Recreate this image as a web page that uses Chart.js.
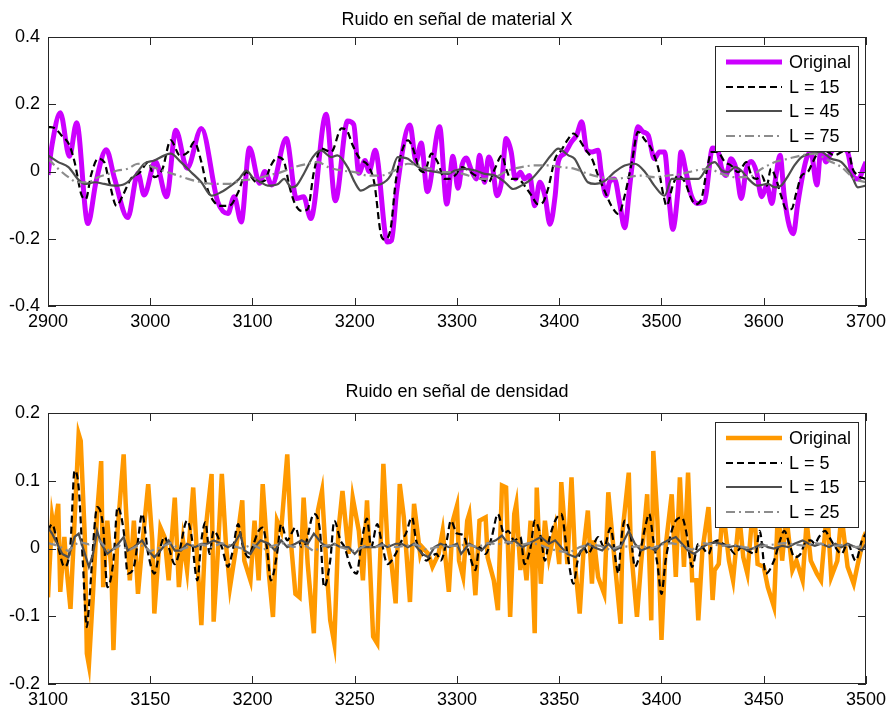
<!DOCTYPE html>
<html lang="es">
<head>
<meta charset="UTF-8">
<title>Ruido en señal</title>
<script src="https://cdn.jsdelivr.net/npm/chart.js"></script>
<style>
  body { margin: 0; background: #fff; }
  .panel { position: absolute; left: 0; width: 891px; }
</style>
</head>
<body>
<div class="panel" style="top:0; height:354px"><canvas id="topChart"></canvas></div>
<div class="panel" style="top:354px; height:355px"><canvas id="bottomChart"></canvas></div>

<script>
// ---- Ruido en señal de material X  (x: muestra, y: ruido) ----
const matOriginal = [[2900,-0.01],[2904,0.08],[2912,0.175],[2921,0.045],[2928,0.145],[2939,-0.155],[2947,-0.03],[2957,0.065],[2965,-0.02],[2978,-0.137],[2988,-0.005],[2994,-0.07],[3005,0.03],[3016,-0.075],[3025,0.123],[3036,0.01],[3050,0.128],[3066,-0.09],[3076,-0.125],[3082,-0.075],[3089,-0.15],[3097,0.07],[3107,-0.035],[3112,0.0],[3119,-0.04],[3133,0.098],[3143,-0.08],[3150,-0.075],[3157,-0.14],[3172,0.17],[3181,-0.087],[3193,0.15],[3199,0.14],[3204,-0.005],[3210,0.033],[3214,0.0],[3220,0.063],[3232,-0.21],[3236,-0.205],[3241,-0.06],[3254,0.138],[3260,0.03],[3265,0.085],[3271,-0.06],[3283,0.133],[3290,-0.097],[3296,0.045],[3301,-0.05],[3305,0.02],[3309,0.04],[3314,0.005],[3319,-0.022],[3322,0.048],[3327,-0.032],[3331,0.043],[3335,0.008],[3339,-0.072],[3344,-0.022],[3348,0.098],[3353,0.058],[3357,-0.022],[3362,-0.002],[3366,-0.022],[3371,-0.012],[3376,-0.102],[3381,-0.032],[3386,-0.072],[3391,-0.157],[3396,-0.072],[3399,0.028],[3405,0.053],[3412,0.088],[3417,0.108],[3422,0.148],[3427,0.063],[3432,0.058],[3438,0.063],[3441,-0.002],[3446,-0.072],[3449,-0.032],[3454,-0.022],[3459,-0.092],[3464,-0.167],[3469,-0.042],[3474,0.088],[3477,0.133],[3482,0.118],[3487,0.108],[3493,0.038],[3498,0.058],[3503,0.058],[3508,-0.102],[3511,-0.172],[3516,-0.062],[3519,0.058],[3524,-0.002],[3529,-0.07],[3535,-0.095],[3542,-0.09],[3550,0.07],[3555,0.063],[3559,0.008],[3563,-0.012],[3568,0.038],[3573,0.008],[3578,-0.08],[3583,0.008],[3588,0.03],[3593,-0.002],[3598,-0.075],[3603,-0.042],[3608,-0.095],[3612,-0.012],[3616,0.048],[3620,-0.072],[3625,-0.162],[3629,-0.185],[3633,-0.102],[3638,-0.012],[3642,0.04],[3646,0.058],[3652,-0.04],[3656,0.068],[3661,0.028],[3666,0.058],[3673,0.073],[3677,0.068],[3682,0.058],[3687,-0.012],[3692,-0.022],[3700,0.028]];

const matL15 = [[2900,0.133],[2907,0.128],[2913,0.108],[2921,0.078],[2926,0.028],[2933,-0.072],[2937,-0.082],[2942,-0.012],[2949,0.038],[2955,0.028],[2960,-0.032],[2967,-0.102],[2973,-0.072],[2981,-0.022],[2990,-0.002],[2998,0.028],[3004,-0.017],[3012,0.008],[3020,0.093],[3029,0.048],[3037,0.058],[3043,0.088],[3050,0.028],[3056,-0.052],[3063,-0.092],[3069,-0.102],[3077,-0.102],[3086,-0.062],[3094,-0.002],[3104,-0.032],[3112,-0.027],[3118,0.018],[3125,0.043],[3131,0.028],[3136,-0.042],[3141,-0.092],[3148,-0.117],[3154,-0.112],[3160,-0.002],[3167,0.068],[3177,0.058],[3187,0.128],[3193,0.118],[3198,0.078],[3205,0.038],[3213,0.018],[3219,-0.032],[3226,-0.192],[3229,-0.202],[3235,-0.172],[3240,-0.032],[3245,0.048],[3252,0.093],[3257,0.068],[3263,0.008],[3268,-0.002],[3275,0.053],[3281,0.028],[3288,-0.022],[3292,-0.022],[3298,-0.012],[3305,0.013],[3311,0.003],[3318,-0.012],[3324,-0.022],[3331,-0.032],[3337,0.008],[3344,0.048],[3348,0.008],[3353,-0.022],[3360,-0.022],[3366,-0.042],[3373,-0.072],[3379,-0.097],[3384,-0.092],[3389,-0.052],[3396,0.038],[3402,0.063],[3409,0.098],[3414,0.113],[3419,0.098],[3425,0.068],[3432,0.038],[3438,-0.012],[3445,-0.062],[3451,-0.102],[3458,-0.127],[3464,-0.072],[3471,0.028],[3477,0.118],[3484,0.093],[3490,0.068],[3497,0.008],[3502,-0.072],[3505,-0.102],[3511,-0.042],[3516,-0.012],[3523,-0.032],[3528,-0.072],[3533,-0.097],[3539,-0.082],[3544,-0.002],[3549,0.058],[3555,0.058],[3562,0.028],[3568,0.018],[3575,-0.002],[3583,0.028],[3588,-0.012],[3593,-0.022],[3598,-0.012],[3603,-0.042],[3607,0.008],[3612,-0.022],[3617,-0.072],[3622,-0.112],[3627,-0.112],[3632,-0.062],[3637,-0.012],[3643,-0.002],[3648,0.028],[3656,0.068],[3663,0.058],[3669,0.048],[3676,0.058],[3682,0.068],[3687,0.008],[3692,-0.012],[3700,-0.022]];

const matL45 = [[2900,0.048],[2910,0.028],[2920,0.013],[2929,-0.022],[2936,-0.037],[2946,-0.032],[2955,-0.037],[2965,-0.042],[2975,-0.037],[2985,-0.012],[2994,0.023],[3004,0.033],[3014,0.048],[3020,0.053],[3030,0.028],[3040,-0.002],[3050,-0.032],[3060,-0.072],[3069,-0.062],[3079,-0.042],[3087,-0.022],[3094,0.003],[3100,-0.017],[3108,-0.032],[3115,-0.042],[3125,-0.037],[3131,-0.022],[3138,-0.047],[3143,-0.042],[3151,-0.002],[3159,0.043],[3167,0.063],[3177,0.043],[3183,0.048],[3193,0.013],[3200,-0.032],[3206,-0.057],[3216,-0.042],[3226,-0.037],[3235,-0.012],[3242,0.043],[3252,0.038],[3258,0.023],[3265,0.008],[3271,0.003],[3281,-0.002],[3291,-0.007],[3298,0.003],[3308,0.008],[3318,0.003],[3327,-0.007],[3337,-0.012],[3347,-0.032],[3355,-0.052],[3363,-0.042],[3373,-0.022],[3383,0.013],[3392,0.048],[3399,0.068],[3409,0.048],[3415,0.038],[3422,-0.002],[3428,-0.032],[3435,-0.037],[3445,-0.027],[3454,-0.002],[3464,0.018],[3474,0.023],[3484,-0.002],[3493,-0.042],[3503,-0.072],[3510,-0.022],[3526,-0.022],[3536,-0.022],[3546,0.018],[3552,0.028],[3559,0.003],[3565,-0.002],[3572,0.013],[3578,0.003],[3585,-0.022],[3594,-0.042],[3604,-0.037],[3611,-0.047],[3617,-0.042],[3624,-0.012],[3630,0.018],[3637,0.043],[3646,0.053],[3656,0.058],[3666,0.038],[3676,0.028],[3686,-0.012],[3692,-0.047],[3700,-0.042]];

const matL75 = [[2900,0.038],[2910,0.008],[2920,-0.017],[2929,-0.032],[2939,-0.032],[2949,-0.017],[2959,-0.007],[2968,0.003],[2978,0.008],[2988,0.023],[2998,0.018],[3007,0.008],[3017,-0.002],[3027,-0.012],[3037,-0.022],[3050,-0.032],[3063,-0.037],[3076,-0.037],[3089,-0.027],[3102,-0.022],[3115,-0.012],[3128,-0.002],[3141,0.013],[3154,0.023],[3164,0.028],[3174,0.013],[3187,0.003],[3200,-0.002],[3213,-0.012],[3226,-0.012],[3239,0.003],[3252,0.023],[3262,0.018],[3275,0.008],[3288,-0.002],[3298,-0.002],[3311,-0.012],[3324,-0.022],[3337,-0.017],[3350,0.003],[3363,0.013],[3376,0.018],[3389,0.018],[3402,0.013],[3415,0.008],[3428,-0.007],[3441,-0.017],[3454,-0.022],[3467,-0.017],[3480,-0.012],[3493,-0.017],[3506,-0.012],[3520,-0.007],[3533,0.003],[3546,0.008],[3559,-0.007],[3572,-0.017],[3585,-0.017],[3598,0.008],[3611,0.028],[3624,0.038],[3637,0.048],[3650,0.053],[3663,0.033],[3676,0.013],[3689,-0.022],[3700,-0.032]];

// ---- Ruido en señal de densidad ----
const denOriginal = [[3100,-0.072],[3102,0.046],[3103,0.026],[3105,0.066],[3106,-0.064],[3108,0.017],[3109,-0.027],[3111,-0.089],[3113,0.041],[3115,0.169],[3116,0.159],[3118,0.017],[3119,-0.155],[3120,-0.172],[3122,-0.067],[3124,0.051],[3126,0.129],[3127,-0.057],[3129,0.041],[3131,-0.032],[3132,-0.15],[3134,0.026],[3137,0.139],[3138,0.066],[3140,-0.047],[3142,0.041],[3144,-0.067],[3146,0.002],[3149,0.095],[3151,0.012],[3152,-0.096],[3155,0.031],[3157,0.017],[3159,-0.047],[3162,0.075],[3164,-0.057],[3166,0.012],[3168,-0.032],[3171,0.09],[3173,-0.018],[3175,-0.113],[3177,0.026],[3180,0.11],[3181,-0.108],[3183,-0.008],[3185,0.11],[3187,0.007],[3189,-0.057],[3192,0.002],[3195,0.071],[3196,-0.018],[3199,-0.047],[3201,0.041],[3203,-0.047],[3205,0.095],[3208,-0.037],[3210,-0.101],[3212,0.041],[3214,0.026],[3217,0.139],[3219,0.002],[3221,-0.067],[3223,-0.072],[3225,0.075],[3227,-0.023],[3230,-0.125],[3232,0.056],[3234,0.085],[3236,-0.018],[3238,-0.106],[3240,-0.14],[3242,0.026],[3244,0.085],[3247,-0.008],[3249,0.075],[3252,0.026],[3254,-0.047],[3256,0.071],[3259,-0.13],[3261,-0.14],[3264,0.125],[3266,0.007],[3268,-0.023],[3270,-0.081],[3272,0.095],[3274,0.046],[3277,-0.079],[3279,0.066],[3282,-0.008],[3283,0.002],[3286,-0.008],[3288,-0.027],[3291,-0.008],[3293,0.026],[3296,-0.064],[3298,0.041],[3300,0.063],[3301,-0.018],[3303,-0.042],[3305,0.041],[3306,0.051],[3309,-0.069],[3311,0.041],[3314,0.046],[3315,-0.013],[3318,-0.047],[3320,-0.091],[3322,0.093],[3324,0.09],[3326,-0.101],[3328,0.051],[3329,0.066],[3331,-0.032],[3332,0.007],[3334,-0.047],[3336,0.041],[3338,-0.125],[3339,0.09],[3341,-0.052],[3343,0.041],[3345,-0.013],[3348,0.031],[3350,-0.023],[3351,0.098],[3354,-0.023],[3356,0.105],[3358,-0.032],[3360,-0.096],[3362,0.002],[3364,0.056],[3366,-0.052],[3367,0.012],[3369,-0.042],[3372,-0.067],[3374,0.083],[3376,0.017],[3378,-0.047],[3380,-0.111],[3381,0.026],[3384,0.112],[3385,0.002],[3388,-0.101],[3390,-0.023],[3393,0.08],[3395,-0.106],[3396,0.144],[3398,0.041],[3400,-0.135],[3402,0.002],[3405,0.08],[3407,-0.042],[3409,0.105],[3411,-0.027],[3413,0.112],[3415,-0.047],[3417,-0.047],[3418,-0.106],[3420,-0.003],[3423,0.061],[3425,-0.076],[3426,-0.032],[3428,-0.023],[3430,0.06],[3433,-0.018],[3435,-0.047],[3438,0.05],[3440,-0.013],[3442,-0.037],[3445,0.07],[3447,-0.023],[3450,-0.027],[3452,-0.057],[3455,-0.086],[3457,0.06],[3459,-0.018],[3461,0.05],[3464,-0.032],[3466,-0.018],[3469,-0.047],[3471,0.04],[3473,-0.018],[3476,-0.037],[3478,-0.047],[3481,0.06],[3483,-0.042],[3486,-0.018],[3488,0.05],[3491,-0.027],[3494,-0.052],[3496,-0.023],[3499,0.017],[3500,0.024]];

const denL5 = [[3100,0.026],[3102,0.036],[3105,0.002],[3108,-0.027],[3111,0.007],[3113,0.115],[3115,0.09],[3117,-0.018],[3119,-0.116],[3120,-0.086],[3123,0.041],[3124,0.061],[3127,0.031],[3129,-0.057],[3132,-0.018],[3134,0.061],[3137,0.026],[3139,-0.037],[3142,-0.027],[3144,0.012],[3146,0.051],[3149,-0.008],[3152,-0.037],[3155,0.002],[3157,0.017],[3159,0.002],[3162,-0.023],[3164,-0.008],[3168,0.041],[3170,0.022],[3173,-0.047],[3175,0.012],[3177,0.039],[3179,-0.008],[3181,0.026],[3185,0.002],[3188,-0.027],[3190,-0.008],[3193,0.036],[3195,0.007],[3198,-0.013],[3200,0.002],[3203,0.026],[3205,0.031],[3207,0.002],[3209,-0.047],[3212,-0.008],[3214,0.036],[3217,0.012],[3219,0.022],[3221,0.031],[3224,0.002],[3226,0.007],[3230,0.051],[3233,0.026],[3235,-0.057],[3238,-0.018],[3240,0.041],[3243,0.012],[3245,0.002],[3248,-0.027],[3251,-0.037],[3253,0.002],[3256,0.044],[3258,0.002],[3261,0.036],[3263,0.012],[3266,-0.023],[3270,-0.008],[3273,0.012],[3275,0.022],[3278,0.046],[3280,0.012],[3283,-0.008],[3285,-0.018],[3287,-0.013],[3290,-0.008],[3292,-0.018],[3295,0.012],[3297,0.041],[3300,0.022],[3303,0.02],[3306,-0.008],[3309,-0.032],[3311,0.002],[3314,-0.008],[3317,0.017],[3320,0.051],[3323,0.022],[3325,0.026],[3328,0.012],[3331,0.017],[3333,-0.023],[3336,0.002],[3338,0.041],[3341,0.017],[3343,-0.018],[3345,0.012],[3348,0.041],[3351,0.051],[3354,-0.008],[3357,-0.052],[3359,-0.018],[3362,0.002],[3364,-0.008],[3367,0.007],[3369,0.017],[3372,0.002],[3375,0.03],[3379,-0.037],[3380,0.002],[3382,0.041],[3385,0.017],[3387,-0.027],[3389,-0.013],[3392,0.031],[3394,0.051],[3396,0.012],[3398,-0.023],[3400,-0.067],[3402,-0.018],[3405,0.026],[3407,0.041],[3410,0.046],[3412,0.026],[3415,-0.027],[3418,0.007],[3420,0.002],[3423,-0.008],[3425,0.007],[3428,0.012],[3430,0.007],[3433,0.002],[3436,-0.008],[3439,0.002],[3442,-0.003],[3446,-0.008],[3448,0.026],[3451,-0.037],[3455,-0.018],[3458,0.012],[3460,0.026],[3463,0.002],[3465,-0.013],[3468,-0.008],[3470,0.007],[3473,0.012],[3475,0.007],[3477,0.017],[3480,0.026],[3482,0.017],[3485,0.002],[3488,-0.008],[3491,0.007],[3495,-0.018],[3498,0.012],[3500,0.022]];

const denL15 = [[3100,0.031],[3102,0.022],[3107,-0.008],[3110,-0.013],[3113,0.017],[3115,0.022],[3117,0.002],[3120,-0.027],[3122,-0.008],[3124,0.026],[3126,0.007],[3129,-0.008],[3133,0.002],[3137,0.017],[3139,-0.003],[3142,0.002],[3146,0.012],[3149,-0.003],[3152,-0.013],[3155,-0.003],[3159,0.012],[3162,-0.003],[3165,-0.003],[3168,0.007],[3172,0.002],[3175,0.007],[3178,0.007],[3181,0.012],[3185,0.007],[3188,0.002],[3191,0.007],[3194,0.022],[3196,-0.003],[3199,-0.008],[3201,0.002],[3204,0.012],[3208,0.007],[3211,-0.003],[3214,0.012],[3217,0.002],[3221,0.007],[3224,0.012],[3227,0.007],[3230,0.022],[3234,0.007],[3237,0.002],[3240,0.007],[3243,0.002],[3247,0.002],[3250,-0.008],[3253,0.002],[3256,0.002],[3260,0.002],[3263,0.007],[3266,0.002],[3270,0.007],[3273,0.007],[3276,0.002],[3279,0.007],[3283,-0.008],[3286,-0.013],[3289,0.002],[3292,0.007],[3296,0.002],[3300,0.007],[3302,-0.008],[3306,0.007],[3309,0.002],[3312,-0.003],[3315,0.007],[3319,0.012],[3322,0.019],[3325,0.007],[3328,0.012],[3332,0.002],[3335,0.007],[3338,0.012],[3341,0.017],[3345,0.007],[3348,0.012],[3351,0.002],[3354,-0.008],[3358,-0.013],[3361,-0.003],[3364,0.007],[3367,0.002],[3371,-0.003],[3374,0.007],[3377,-0.003],[3380,0.002],[3384,0.026],[3387,0.007],[3390,-0.003],[3394,0.002],[3397,-0.003],[3400,0.007],[3403,0.012],[3407,0.017],[3410,0.007],[3413,-0.003],[3416,-0.008],[3420,0.002],[3423,0.007],[3426,0.009],[3429,0.007],[3433,0.002],[3436,0.004],[3439,0.002],[3442,-0.003],[3446,0.002],[3449,0.007],[3452,0.002],[3455,0.0],[3459,0.004],[3462,0.002],[3465,0.007],[3469,0.012],[3472,0.007],[3475,0.004],[3478,0.007],[3482,0.002],[3485,0.007],[3488,0.002],[3491,0.007],[3495,0.002],[3498,-0.003],[3500,0.007]];

const denL25 = [[3100,0.008],[3105,0.004],[3110,-0.004],[3115,0.01],[3120,0.006],[3125,0.012],[3130,-0.004],[3135,0.004],[3140,-0.002],[3145,0.006],[3150,-0.004],[3155,0.002],[3160,0.008],[3165,-0.002],[3170,0.004],[3175,0.006],[3180,0.002],[3185,0.008],[3190,0.004],[3195,0.0],[3200,0.006],[3205,-0.002],[3210,0.004],[3215,0.008],[3220,0.002],[3225,0.006],[3230,-0.004],[3235,0.004],[3240,0.006],[3245,0.0],[3250,-0.004],[3255,0.004],[3260,0.002],[3265,0.006],[3270,0.002],[3275,0.004],[3280,0.006],[3285,-0.002],[3290,0.002],[3295,0.004],[3300,0.004],[3305,0.006],[3310,0.002],[3315,0.008],[3320,0.006],[3325,0.01],[3330,0.004],[3335,0.008],[3340,0.006],[3345,0.0],[3350,-0.004],[3355,-0.006],[3360,0.002],[3365,0.006],[3370,0.004],[3375,-0.002],[3380,0.004],[3385,0.002],[3390,0.004],[3395,0.0],[3400,0.006],[3405,0.008],[3410,0.004],[3415,-0.002],[3420,0.008],[3425,0.006],[3430,0.004],[3435,0.006],[3440,0.002],[3445,0.0],[3450,0.004],[3455,0.006],[3460,0.008],[3465,0.006],[3470,0.004],[3475,0.008],[3480,0.006],[3485,0.004],[3490,0.006],[3495,0.002],[3500,0.004]];

const FONT = '"Liberation Sans", Arial, Helvetica, sans-serif';
Chart.defaults.font.family = FONT;
Chart.defaults.font.size = 18;
Chart.defaults.color = '#000';

const pts = arr => arr.map(p => ({ x: p[0], y: p[1] }));

// axis box with inner ticks, title and a boxed legend, drawn on top of the lines
const matlabLook = {
    id: 'matlabLook',
    afterDatasetsDraw(chart, args, opts) {
        const { ctx, chartArea: a, scales } = chart;
        ctx.save();
        ctx.strokeStyle = '#262626';
        ctx.lineWidth = 1;
        ctx.beginPath();
        scales.x.ticks.forEach(t => {
            const px = Math.round(scales.x.getPixelForValue(t.value)) + 0.5;
            ctx.moveTo(px, a.bottom); ctx.lineTo(px, a.bottom - 8);
            ctx.moveTo(px, a.top); ctx.lineTo(px, a.top + 8);
        });
        scales.y.ticks.forEach(t => {
            const py = Math.round(scales.y.getPixelForValue(t.value)) + 0.5;
            ctx.moveTo(a.left, py); ctx.lineTo(a.left + 8, py);
            ctx.moveTo(a.right, py); ctx.lineTo(a.right - 8, py);
        });
        ctx.stroke();
        ctx.strokeRect(Math.round(a.left) + 0.5, Math.round(a.top) + 0.5, Math.round(a.width) - 1, Math.round(a.height) - 1);

        // legend
        const bw = 143, bh = 105;
        const bx = Math.round(a.right) - 8 - bw, by = Math.round(a.top) + 9;
        ctx.fillStyle = '#fff';
        ctx.fillRect(bx, by, bw, bh);
        ctx.strokeStyle = '#262626';
        ctx.strokeRect(bx + 0.5, by + 0.5, bw, bh);
        const rows = [16, 41, 65, 90];
        ctx.font = '18px ' + FONT;
        ctx.textBaseline = 'middle';
        ctx.textAlign = 'left';
        chart.data.datasets.forEach((ds, i) => {
            const ry = by + rows[i];
            ctx.beginPath();
            ctx.strokeStyle = ds.borderColor;
            ctx.lineWidth = ds.borderWidth;
            ctx.setLineDash(ds.borderDash || []);
            ctx.moveTo(bx + 11, ry);
            ctx.lineTo(bx + 67, ry);
            ctx.stroke();
            ctx.setLineDash([]);
            ctx.fillStyle = '#000';
            ctx.fillText(ds.label, bx + 74, ry + 1);
        });

        // title
        ctx.font = '18px ' + FONT;
        ctx.textAlign = 'center';
        ctx.fillText(opts.title, (a.left + a.right) / 2, opts.titleY);
        ctx.restore();
    }
};

function makeChart(id, cfg) {
    return new Chart(document.getElementById(id), {
        type: 'line',
        data: { datasets: cfg.datasets },
        options: {
            responsive: true,
            maintainAspectRatio: false,
            animation: false,
            layout: { padding: { top: cfg.padTop, right: 25, bottom: 0, left: 0 } },
            plugins: {
                legend: { display: false },
                tooltip: { enabled: false },
                matlabLook: { title: cfg.title, titleY: cfg.titleY }
            },
            elements: { point: { radius: 0 } },
            scales: {
                x: {
                    type: 'linear', min: cfg.xMin, max: cfg.xMax,
                    grid: { display: false, drawTicks: false },
                    border: { display: false },
                    ticks: { stepSize: cfg.xStep, padding: 5, maxRotation: 0, autoSkip: false, callback: v => String(v) },
                    afterFit: s => { s.height = cfg.xAxisH; }
                },
                y: {
                    min: cfg.yMin, max: cfg.yMax,
                    grid: { display: false, drawTicks: false },
                    border: { display: false },
                    ticks: { stepSize: cfg.yStep, padding: 8, callback: v => String(Number(v.toFixed(1))) },
                    afterFit: s => { s.width = 48; }
                }
            }
        },
        plugins: [matlabLook]
    });
}

const line = (label, data, color, width, dash, order, smooth) => ({
    label, data: pts(data), borderColor: color, borderWidth: width,
    borderDash: dash, order, fill: false,
    cubicInterpolationMode: smooth ? 'monotone' : 'default', tension: 0
});

makeChart('topChart', {
    title: 'Ruido en señal de material X', titleY: 20,
    padTop: 37, xAxisH: 48,
    xMin: 2900, xMax: 3700, xStep: 100,
    yMin: -0.4, yMax: 0.4, yStep: 0.2,
    datasets: [
        line('Original', matOriginal, '#cc00ff', 5, [], 4, true),
        line('L = 15', matL15, '#000000', 2.2, [7, 4], 3, true),
        line('L = 45', matL45, '#4d4d4d', 2.2, [], 2, true),
        line('L = 75', matL75, '#8c8c8c', 2.2, [9, 4, 2, 4], 1, true)
    ]
});

makeChart('bottomChart', {
    title: 'Ruido en señal de densidad', titleY: 38,
    padTop: 59, xAxisH: 25,
    xMin: 3100, xMax: 3500, xStep: 50,
    yMin: -0.2, yMax: 0.2, yStep: 0.1,
    datasets: [
        line('Original', denOriginal, '#ff9900', 4.5, [], 4, false),
        line('L = 5', denL5, '#000000', 2.2, [7, 4], 3, true),
        line('L = 15', denL15, '#4d4d4d', 2.2, [], 2, false),
        line('L = 25', denL25, '#8c8c8c', 2.2, [9, 4, 2, 4], 1, false)
    ]
});
</script>
</body>
</html>
